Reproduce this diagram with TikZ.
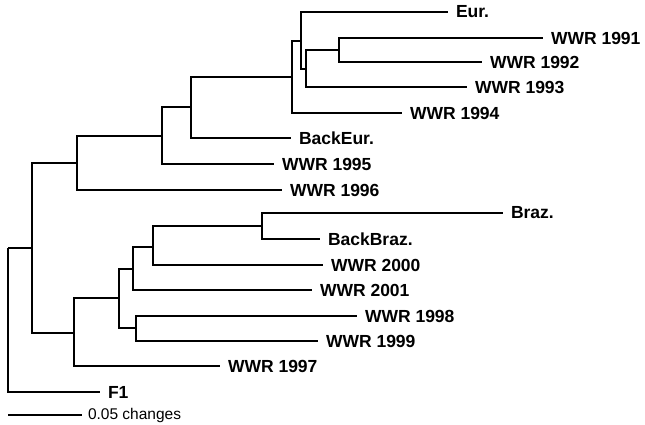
\documentclass[tikz,border=0pt]{standalone}
\usepackage{fontspec}
\setmainfont{Liberation Sans}
\usetikzlibrary{positioning}
\tikzstyle{leaf}=[anchor=west,inner xsep=8pt,inner ysep=0pt,outer sep=0pt,font=\bfseries\fontsize{17.5}{20}\selectfont]
\tikzstyle{scalelabel}=[anchor=west,inner xsep=6pt,inner ysep=0pt,outer sep=0pt,font=\fontsize{15.5}{18}\selectfont]
\tikzstyle{branch} = [draw,line width=2.3pt]

\begin{document}
\begin{tikzpicture}[x=1pt,y=-1pt]
  \useasboundingbox (0,0) rectangle (645,425);

  % internal nodes of the tree
  \foreach \x/\y/\name in {8/248/root, 32/248/a, 77/163/b, 162/136/d, 191/107/e,
      292/77/f, 301/41/g, 306/69/h, 339/50/i,
      74/333/c, 119/298/j, 133/269/k, 153/247/m, 262/226/n, 136/328/l}
    \coordinate (\name) at (\x,\y);

  % leaves
  \foreach \pos/\name/\label in {{(448,12)/eur/Eur.}, {(543,38)/w91/WWR 1991}, {(482,62)/w92/WWR 1992},
      {(467,87)/w93/WWR 1993}, {(402,113)/w94/WWR 1994}, {(291,138)/backeur/BackEur.},
      {(274,164)/w95/WWR 1995}, {(282,190)/w96/WWR 1996}, {(503,213)/braz/Braz.},
      {(320,239)/backbraz/BackBraz.}, {(323,265)/w00/WWR 2000}, {(312,290)/w01/WWR 2001},
      {(357,316)/w98/WWR 1998}, {(318,341)/w99/WWR 1999}, {(220,366)/w97/WWR 1997},
      {(100,392)/fone/F1}}
    \node[leaf] (\name) at \pos {\label};

  % branches
  \foreach \source/\dest in {root/a, root/fone.west, a/b, a/c, b/d, b/w96.west, d/e, d/w95.west,
      e/f, e/backeur.west, f/g, f/w94.west, g/eur.west, g/h, h/i, h/w93.west, i/w91.west, i/w92.west,
      c/j, c/w97.west, j/k, j/l, k/m, k/w01.west, m/n, m/w00.west, n/braz.west, n/backbraz.west,
      l/w98.west, l/w99.west}
    \path[branch] (\source) |- (\dest);

  % scale bar
  \coordinate (sbar) at (8,415);
  \node[scalelabel] (changes) at (82,415) {0.05 changes};
  \path[draw,line width=1.6pt] (sbar) -- (changes.west);
\end{tikzpicture}
\end{document}
